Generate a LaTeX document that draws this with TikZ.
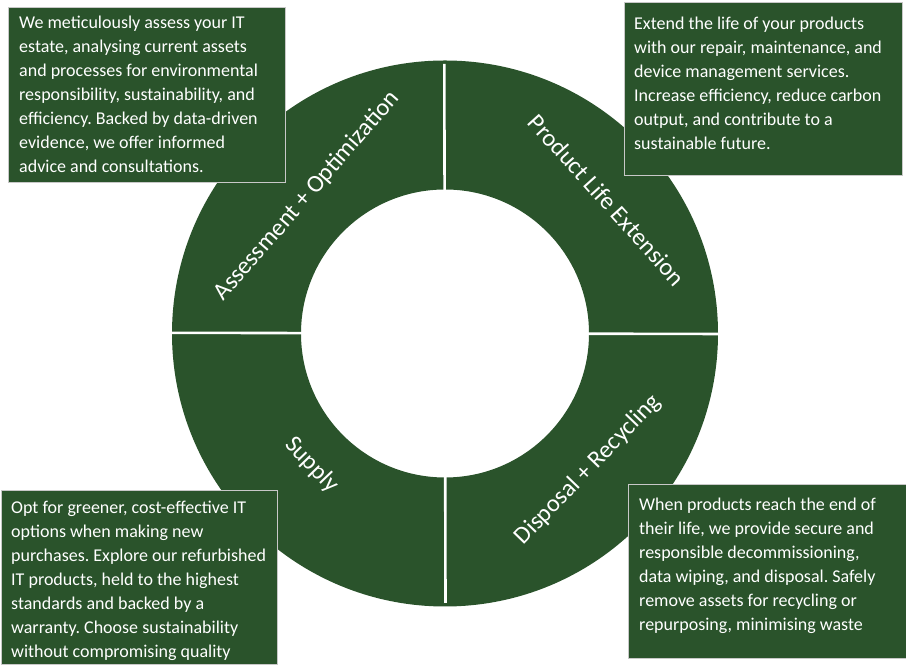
\documentclass[tikz,border=0pt]{standalone}
\usepackage{fontspec}
\setmainfont{Carlito}
\frenchspacing
\definecolor{ringgreen}{HTML}{2A532B}
\definecolor{boxedge}{HTML}{C8C8C8}
\tikzset{
  x=1pt, y=1pt,
  infobox/.style={draw=boxedge, line width=0.9pt, fill=ringgreen, rectangle, inner sep=0pt, anchor=north west},
  infotext/.style={text=white, inner sep=0pt, anchor=base west, font=\fontsize{18}{24}\selectfont\frenchspacing},
  ringlabel/.style={text=white, inner sep=0pt, font=\fontsize{24.5}{28}\selectfont},
  gapline/.style={draw=white, line width=2.6pt}
}
\begin{document}
\begin{tikzpicture}
\useasboundingbox (0,0) rectangle (906,666);
% ring
\coordinate (c) at (445,332.5);
\fill[ringgreen, even odd rule] (c) circle (273) (c) circle (144);
\coordinate (gl) at (168,333.2);
\coordinate (gr) at (722,332.0);
\coordinate (gt) at (445.5,63);
\coordinate (gb) at (444.3,602);
\draw[gapline] (gl) -- (gr);
\draw[gapline] (gt) -- (gb);
% ring labels
\node[ringlabel, rotate=49] (l1) at (307,470) {Assessment + Optimization};
\node[ringlabel, rotate=-48] (l2) at (607,466) {Product Life Extension};
\node[ringlabel, rotate=-46] (l3) at (312,201) {Supply};
\node[ringlabel, rotate=46] (l4) at (588,196) {Disposal + Recycling};
% info boxes
\node[infobox, minimum width=277, minimum height=175] (b1) at (8,659) {};
\node[infotext] (t1) at (19,637) {\parbox[t]{270pt}{\raggedright We meticulously assess your IT\\ estate, analysing current assets\\ and processes for environmental\\ responsibility, sustainability, and\\ efficiency. Backed by data-driven\\ evidence, we offer informed\\ advice and consultations.}};
\node[infobox, minimum width=278, minimum height=173] (b2) at (624,664) {};
\node[infotext] (t2) at (634,636) {\parbox[t]{270pt}{\raggedright Extend the life of your products\\ with our repair, maintenance, and\\ device management services.\\ Increase efficiency, reduce carbon\\ output, and contribute to a\\ sustainable future.}};
\node[infobox, minimum width=276, minimum height=174] (b3) at (1,176) {};
\node[infotext] (t3) at (11,152) {\parbox[t]{270pt}{\raggedright Opt for greener, cost-effective IT\\ options when making new\\ purchases. Explore our refurbished\\ IT products, held to the highest\\ standards and backed by a\\ warranty. Choose sustainability\\ without compromising quality}};
\node[infobox, minimum width=280, minimum height=174] (b4) at (628,182) {};
\node[infotext] (t4) at (639,155) {\parbox[t]{270pt}{\raggedright When products reach the end of\\ their life, we provide secure and\\ responsible decommissioning,\\ data wiping, and disposal. Safely\\ remove assets for recycling or\\ repurposing, minimising waste}};
\end{tikzpicture}
\end{document}
